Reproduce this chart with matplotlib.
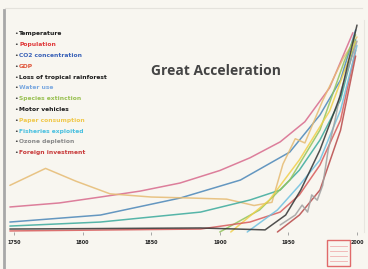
import numpy as np
import matplotlib
matplotlib.use("Agg")
import matplotlib.pyplot as plt
from matplotlib.patches import Rectangle
from matplotlib.lines import Line2D

# ---------------------------
# data (index 0-100)
# ---------------------------
legend_labels = ["Temperature", "Population", "CO2 concentration", "GDP",
                 "Loss of tropical rainforest", "Water use", "Species extinction",
                 "Motor vehicles", "Paper consumption", "Fisheries exploited",
                 "Ozone depletion", "Foreign investment"]
legend_colors = ["#1a1a1a", "#e0393a", "#3a62b8", "#e0553a", "#1a1a1a", "#7aa8e0",
                 "#98c050", "#1a1a1a", "#f0c84a", "#48c0e0", "#8a8a8a", "#c83a3a"]

tick_years = [1750, 1800, 1850, 1900, 1950, 2000]

pink_x = [1747, 1783, 1813, 1842, 1871, 1900, 1922, 1944, 1962, 1980, 1997]
pink_y = [11.8, 13.7, 16.5, 19.3, 23.1, 29.0, 35.0, 42.5, 52.0, 68.0, 94.0]

blue_x = [1747, 1813, 1871, 1915, 1951, 1973, 1988, 1999]
blue_y = [4.7, 8.0, 16.0, 24.5, 37.7, 55.2, 71.7, 95.3]

tan_x = [1747, 1773, 1795, 1820, 1850, 1880, 1905, 1925, 1938, 1946, 1955, 1962, 1975, 1990, 2000]
tan_y = [22.0, 30.0, 24.0, 18.0, 16.5, 16.0, 15.5, 12.5, 14.0, 32.0, 44.0, 42.0, 62.0, 82.0, 92.0]

teal_x = [1747, 1813, 1886, 1922, 1944, 1958, 1973, 1988, 1999]
teal_y = [2.8, 4.7, 9.4, 15.1, 19.8, 29.2, 43.4, 62.3, 90.6]

green_x = [1900, 1929, 1951, 1973, 1991, 1999]
green_y = [0.0, 10.4, 24.5, 48.1, 81.0, 93.0]

yellow_x = [1908, 1936, 1958, 1980, 1999]
yellow_y = [0.0, 15.0, 34.0, 57.0, 90.0]

black_x = [1747, 1886, 1933, 1948, 1959, 1973, 1988, 2000]
black_y = [1.4, 1.9, 1.0, 8.0, 19.8, 38.7, 64.6, 97.6]

gray_x = [1944, 1955, 1960, 1964, 1967, 1971, 1975, 1979, 1984, 1988, 2000]
gray_y = [3.3, 8.0, 12.7, 9.4, 17.5, 15.0, 22.0, 38.7, 52.8, 66.0, 90.0]

red_x = [1747, 1886, 1922, 1944, 1958, 1973, 1988, 1999]
red_y = [0.5, 1.4, 4.7, 9.4, 17.5, 31.6, 52.8, 85.8]

lblue_x = [1920, 1942, 1958, 1973, 1988, 2000]
lblue_y = [0.0, 10.4, 22.0, 34.0, 57.5, 88.0]

dred_x = [1942, 1958, 1973, 1988, 1999]
dred_y = [0.0, 8.0, 19.8, 48.0, 83.0]

series = [
    (pink_x, pink_y, "#d8698c"),
    (blue_x, blue_y, "#4a86b8"),
    (tan_x, tan_y, "#e6bb72"),
    (teal_x, teal_y, "#3aaa9c"),
    (green_x, green_y, "#92c45c"),
    (yellow_x, yellow_y, "#f0d04a"),
    (red_x, red_y, "#d85a5a"),
    (lblue_x, lblue_y, "#6ec0e0"),
    (dred_x, dred_y, "#b84848"),
    (gray_x, gray_y, "#a0a0a0"),
    (black_x, black_y, "#333333"),
]

# ---------------------------
# figure
# ---------------------------
bg = "#f8f6f0"
fig = plt.figure(figsize=(3.68, 2.69), dpi=100, facecolor=bg)
ax = fig.add_axes([14 / 368, 37 / 269, 343 / 368, 212 / 269])
ax.set_facecolor("none")

for xs, ys, c in series:
    ax.plot(xs, ys, color=c, lw=1.1, alpha=0.85, solid_capstyle="round", clip_on=False)

ax.set_xlim(1750, 2000)
ax.set_ylim(0, 100)
for s in ax.spines.values():
    s.set_visible(False)
ax.set_yticks([])
ax.set_xticks(tick_years)
ax.set_xticklabels([str(t) for t in tick_years], fontsize=3.5, fontweight="bold", color="#222222")
ax.tick_params(axis="x", length=2, width=0.6, color="#999999", pad=4)

# title
fig.text(216 / 368, 1 - 71 / 269, "Great Acceleration", ha="center", va="center",
         fontsize=10, fontweight="bold", color="#444444", family="Open Sans")

# legend list on the left
for i, (lab, col) in enumerate(zip(legend_labels, legend_colors)):
    y = 1 - (34 + i * 10.8) / 269
    fig.text(14 / 368, y, "\u2022", fontsize=4.5, color="#333333", va="center")
    fig.text(19 / 368, y, lab, fontsize=4.3, fontweight="bold", color=col, va="center")

# slide frame: gray bar on left, faint top line
fig.add_artist(Line2D([4 / 368, 4 / 368], [0, 1 - 10 / 269], color="#a8a8a8", lw=2))
fig.add_artist(Line2D([5 / 368, 362 / 368], [1 - 8 / 269, 1 - 8 / 269], color="#e4e2dc", lw=0.8))
fig.add_artist(Line2D([364 / 368, 364 / 368], [1 - 20 / 269, 1 - 232 / 269], color="#e8e6e0", lw=0.8))

# small logo box bottom right
fig.add_artist(Rectangle((327 / 368, 3 / 269), 23 / 368, 26 / 269, fill=False,
                         edgecolor="#e06a6a", lw=1.0))
for k in range(4):
    yy = (8 + k * 5) / 269
    fig.add_artist(Line2D([330 / 368, 347 / 368], [yy, yy], color="#f0b0b0", lw=0.6))

fig.savefig("out.png", dpi=100, facecolor=bg)
